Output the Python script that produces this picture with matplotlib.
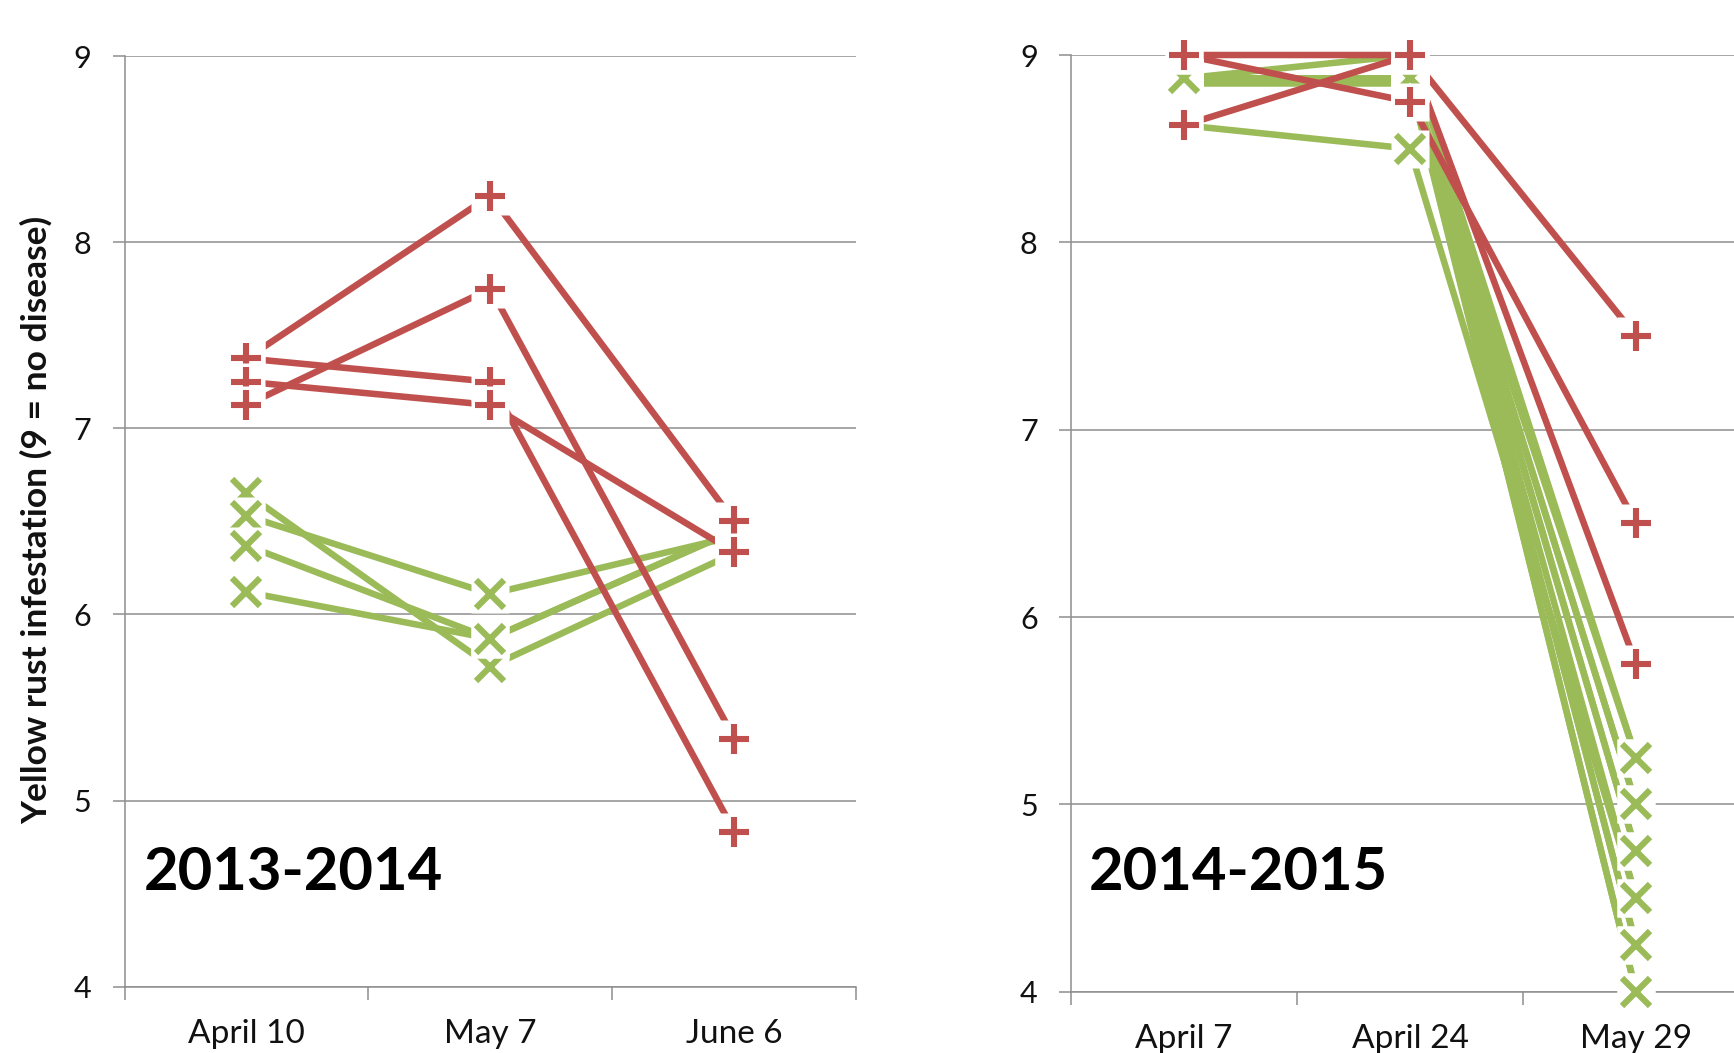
import matplotlib
matplotlib.use("Agg")
import matplotlib.pyplot as plt

# ---------------- data ----------------
dates_1314 = ["April 10", "May 7", "June 6"]
dates_1415 = ["April 7", "April 24", "May 29"]

# 2013-2014 season (9 = no disease)
green_1314 = [
    [6.65, 5.72, 6.33],
    [6.53, 6.11, 6.42],
    [6.37, 5.87, 6.45],
    [6.12, 5.87, 6.45],
]
red_1314 = [
    [7.375, 8.25, 6.5],
    [7.375, 7.25, 4.833],
    [7.25, 7.125, 6.333],
    [7.125, 7.75, 5.333],
]

# 2014-2015 season
green_1415 = [
    [8.875, 9.0, 5.25],
    [8.875, 8.875, 5.25],
    [8.86, 8.86, 5.0],
    [8.875, 8.875, 5.0],
    [8.85, 8.85, 4.75],
    [8.875, 8.875, 4.75],
    [8.625, 8.5, 4.5],
    [8.85, 8.85, 4.5],
    [8.875, 8.875, 4.25],
    [8.85, 8.85, 4.25],
    [8.86, 8.86, 4.0],
    [8.875, 8.875, 4.0],
]
red_1415 = [
    [9.0, 9.0, 7.5],
    [9.0, 8.75, 6.5],
    [8.625, 9.0, 5.75],
]

season_labels = ["2013-2014", "2014-2015"]
y_label = "Yellow rust infestation (9 = no disease)"
y_ticks = [4, 5, 6, 7, 8, 9]

# ---------------- style ----------------
GREEN = "#9BBB59"
RED = "#C0504D"
GRID = "#8E8E8E"
FONT = "Lato"
TXT = "#111111"

W, H = 1734, 1053
fig = plt.figure(figsize=(W / 100, H / 100), dpi=100)
fig.patch.set_facecolor("white")

L_TOP, L_BOT = 56.0, 986.7
R_TOP, R_BOT = 55.0, 991.7
ax1 = fig.add_axes([124.5 / W, 1 - L_BOT / H, 732 / W, (L_BOT - L_TOP) / H])
ax2 = fig.add_axes([1071 / W, 1 - R_BOT / H, 678 / W, (R_BOT - R_TOP) / H])


def style_axes(ax, dates):
    ax.set_xlim(-0.5, 2.5)
    ax.set_ylim(4, 9)
    ax.set_yticks(y_ticks)
    ax.set_yticklabels([str(t) for t in y_ticks], fontsize=22, family=FONT, color=TXT)
    ax.yaxis.grid(True, color=GRID, lw=1.1)
    ax.set_axisbelow(True)
    for s in ("top", "right"):
        ax.spines[s].set_visible(False)
    for s in ("left", "bottom"):
        ax.spines[s].set_color(GRID)
        ax.spines[s].set_linewidth(1.1)
    ax.tick_params(axis="y", direction="out", length=9, width=1.1, color=GRID, pad=15)
    ax.set_xticks([-0.5, 0.5, 1.5, 2.5])
    ax.set_xticklabels([])
    ax.tick_params(axis="x", which="major", direction="out", length=9.5, width=1.1, color=GRID)
    ax.set_xticks([0, 1, 2], minor=True)
    ax.set_xticklabels(dates, minor=True, fontsize=24, family=FONT, color=TXT)
    ax.tick_params(axis="x", which="minor", length=0, pad=23)


def draw_series(ax, greens, reds):
    x = [0, 1, 2]
    # all lines first (green then red)
    for ys in greens:
        ax.plot(x, ys, color=GREEN, lw=4.7, solid_capstyle="butt", zorder=3, clip_on=False)
    for ys in reds:
        ax.plot(x, ys, color=RED, lw=4.7, solid_capstyle="butt", zorder=3, clip_on=False)
    # then markers, each on a white square background
    z = 10
    for ys in greens:
        ax.plot(x, ys, "s", ms=27, mfc="white", mec="none", zorder=z, clip_on=False)
        ax.plot(x, ys, "x", ms=20, mew=4.5, color=GREEN, zorder=z + 0.5, clip_on=False)
        z += 1
    for ys in reds:
        ax.plot(x, ys, "s", ms=27, mfc="white", mec="none", zorder=z, clip_on=False)
        ax.plot(x, ys, "+", ms=22, mew=4.4, color=RED, zorder=z + 0.5, clip_on=False)
        z += 1


style_axes(ax1, dates_1314)
style_axes(ax2, dates_1415)
draw_series(ax1, green_1314, red_1314)
draw_series(ax2, green_1415, red_1415)

ax1.text((144 - 124.5) / 732, (L_BOT - 890) / (L_BOT - L_TOP), season_labels[0],
         transform=ax1.transAxes, fontsize=43, fontweight="bold", family=FONT,
         va="baseline", ha="left", zorder=30)
ax2.text((1089 - 1071) / 678, (R_BOT - 890) / (R_BOT - R_TOP), season_labels[1],
         transform=ax2.transAxes, fontsize=43, fontweight="bold", family=FONT,
         va="baseline", ha="left", zorder=30)

fig.text(36 / W, 1 - 520 / H, y_label, rotation=90, fontsize=25.5, fontweight="bold",
         family=FONT, ha="center", va="center", color=TXT)

fig.savefig("out.png", dpi=100, facecolor="white")
